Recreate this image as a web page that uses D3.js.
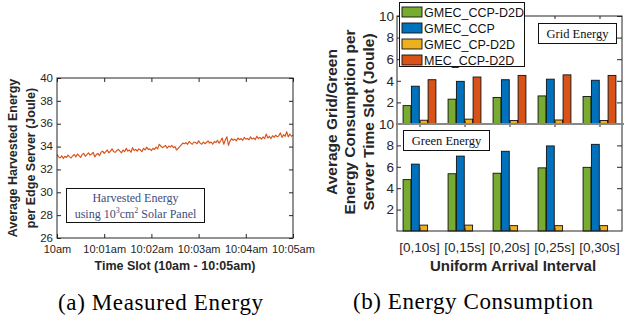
<!DOCTYPE html>
<html><head><meta charset="utf-8">
<script src="https://cdn.jsdelivr.net/npm/d3@7"></script>
<style>
body{margin:0;background:#fff;}
svg{display:block;font-family:"Liberation Sans",Arial,sans-serif;}
.serif{font-family:"Liberation Serif","Times New Roman",Times,serif;}
</style></head>
<body><svg id="c" width="624" height="320"></svg>
<script>
// ---------- Data ----------
// (a) harvested energy, sampled every 2 s from 10:00:00 to 10:05:00
const harvestStepSec = 2;
const harvestValues = [
33.3,33.1,33.0,33.2,32.95,33.15,33.05,33.25,33.1,33.0,33.2,
33.3,33.1,33.35,33.2,33.05,33.3,33.4,33.15,33.3,33.45,
33.25,33.35,33.5,33.1,33.3,33.4,33.2,33.5,33.6,33.4,
33.55,33.7,33.45,33.6,33.8,33.55,33.5,33.65,33.75,33.6,
33.45,33.7,33.55,33.85,33.6,33.7,33.5,33.9,33.65,33.75,
33.6,33.8,33.7,33.55,33.85,33.7,33.95,33.75,33.8,33.65,
33.85,33.75,33.95,33.8,34.2,34.05,33.9,34.0,34.1,33.85,
34.05,33.95,34.1,33.9,34.0,33.7,33.85,34.0,34.15,34.3,
34.25,34.35,34.2,34.45,34.3,34.2,34.4,34.35,34.25,34.5,
34.3,34.2,34.4,34.25,34.35,34.5,34.3,34.4,34.2,34.45,
34.35,34.55,34.3,34.5,34.75,34.2,34.6,34.85,34.1,34.5,
34.7,34.55,34.65,34.5,34.75,34.6,34.7,34.55,34.8,34.65,
34.7,34.6,34.85,34.65,34.75,34.6,34.9,34.7,34.8,34.65,
34.85,34.7,35.1,34.75,34.9,34.7,34.95,34.8,35.0,34.85,
34.95,35.2,34.8,35.05,34.9,35.3,34.85,35.1,34.9,35.0
];
const timeTickSec = [0,60,120,180,240,300];
const timeTickLabels = ["10am","10:01am","10:02am","10:03am","10:04am","10:05am"];
const energyTicks = [26,28,30,32,34,36,38,40];

// (b) energy consumption
const intervals = ["[0,10s]","[0,15s]","[0,20s]","[0,25s]","[0,30s]"];
const seriesNames = ["GMEC_CCP-D2D","GMEC_CCP","GMEC_CP-D2D","MEC_CCP-D2D"];
const seriesColors = ["#77AC30","#0072BD","#EDB120","#D95319"];
const gridGMEC_CCP_D2D = [1.7,2.3,2.45,2.6,2.55];
const gridGMEC_CCP     = [3.5,3.95,4.1,4.15,4.05];
const gridGMEC_CP_D2D  = [0.35,0.45,0.32,0.37,0.32];
const gridMEC_CCP_D2D  = [4.1,4.35,4.5,4.55,4.5];
const greenGMEC_CCP_D2D = [4.8,5.35,5.4,5.9,5.95];
const greenGMEC_CCP     = [6.25,7.0,7.45,7.95,8.1];
const greenGMEC_CP_D2D  = [0.55,0.55,0.5,0.5,0.5];
const greenMEC_CCP_D2D  = [0,0,0,0,0];
const consumptionTicks = [2,4,6,8,10];

// ---------- Drawing ----------
const svg = d3.select("#c");
const ink = "#262626";

// ===== (a) =====
const ax = d3.scaleLinear([0,300],[57,293]);
const ay = d3.scaleLinear([26,40],[238,78]);
const ga = svg.append("g");
const harvest = harvestValues.map((v,i)=>({t:i*harvestStepSec,v}));

ga.append("path").datum(harvest)
  .attr("fill","none").attr("stroke","#D95319").attr("stroke-width",1.15).attr("stroke-linejoin","round")
  .attr("d", d3.line().x(d=>ax(d.t)).y(d=>ay(d.v)));

const axL = ga.append("g").attr("transform","translate(57,0)")
  .call(d3.axisLeft(ay).tickValues(energyTicks).tickFormat(d3.format("d")).tickSizeInner(-4).tickSizeOuter(0).tickPadding(4));
const axR = ga.append("g").attr("transform","translate(293,0)")
  .call(d3.axisRight(ay).tickValues(energyTicks).tickFormat("").tickSizeInner(-4).tickSizeOuter(0));
const axB = ga.append("g").attr("transform","translate(0,238)")
  .call(d3.axisBottom(ax).tickValues(timeTickSec).tickFormat((d,i)=>timeTickLabels[i]).tickSizeInner(-4).tickSizeOuter(0).tickPadding(7));
const axT = ga.append("g").attr("transform","translate(0,78)")
  .call(d3.axisTop(ax).tickValues(timeTickSec).tickFormat("").tickSizeInner(-4).tickSizeOuter(0));
[axL,axR,axB,axT].forEach(g=>{
  g.select(".domain").remove();
  g.selectAll("line").attr("stroke",ink);
  g.selectAll("text").attr("fill",ink).style("font-size","11.5px").style("font-family","'Liberation Sans',Arial,sans-serif");
});
axB.selectAll("text").style("font-size","11px");
axL.selectAll("text").attr("dy","0.28em");
ga.append("rect").attr("x",57).attr("y",78).attr("width",236).attr("height",160)
  .attr("fill","none").attr("stroke",ink).attr("stroke-width",1);

// inner annotation box
ga.append("rect").attr("x",66.5).attr("y",188.5).attr("width",138).attr("height",34)
  .attr("fill","#fff").attr("stroke","#111").attr("stroke-width",1);
ga.append("text").attr("class","serif").attr("text-anchor","middle").attr("x",135.5).attr("y",202)
  .style("font-size","12px").attr("fill","#3f4d7c").text("Harvested Energy");
const l2 = ga.append("text").attr("class","serif").attr("text-anchor","middle").attr("x",135.5).attr("y",218)
  .style("font-size","12px").attr("fill","#3f4d7c");
l2.append("tspan").text("using 10");
l2.append("tspan").attr("dy",-5).style("font-size","8px").text("3");
l2.append("tspan").attr("dy",5).text("cm");
l2.append("tspan").attr("dy",-5).style("font-size","8px").text("2");
l2.append("tspan").attr("dy",5).text(" Solar Panel");

// labels
ga.append("text").attr("x",175).attr("y",269.5).attr("text-anchor","middle")
  .attr("font-weight","bold").style("font-size","12.5px").attr("fill",ink).text("Time Slot (10am - 10:05am)");
const ylA = ga.append("text").attr("transform","rotate(-90)").attr("text-anchor","middle")
  .attr("font-weight","bold").style("font-size","12.5px").attr("fill",ink);
ylA.append("tspan").attr("x",-158).attr("y",17).text("Average Harvested Energy");
ylA.append("tspan").attr("x",-158).attr("y",35).text("per Edge Server (Joule)");
ga.append("text").attr("class","serif").attr("x",160.5).attr("y",310).attr("text-anchor","middle")
  .style("font-size","23px").attr("textLength",205).attr("lengthAdjust","spacing").attr("fill","#000").text("(a) Measured Energy");

// ===== (b) =====
const bx = d3.scaleBand(intervals,[397,622]).paddingInner(0.27).paddingOuter(0.135);
const bs = d3.scaleBand(seriesNames,[0,bx.bandwidth()]).paddingInner(0.06);
const yTop = d3.scaleLinear([0,10],[124,16]);
const yBot = d3.scaleLinear([0,10],[231,124]);
const gridSeries = [gridGMEC_CCP_D2D,gridGMEC_CCP,gridGMEC_CP_D2D,gridMEC_CCP_D2D];
const greenSeries = [greenGMEC_CCP_D2D,greenGMEC_CCP,greenGMEC_CP_D2D,greenMEC_CCP_D2D];
const gb = svg.append("g");
const cpos = d3.scalePoint(intervals,[bx(intervals[0])+bx.bandwidth()/2, bx(intervals[4])+bx.bandwidth()/2]);

function panel(series, y, top, bottom){
  const flat = [];
  series.forEach((arr,si)=>arr.forEach((v,ci)=>flat.push({s:seriesNames[si],c:intervals[ci],v,color:seriesColors[si]})));
  gb.append("g").selectAll("rect").data(flat.filter(d=>d.v>0)).join("rect")
    .attr("x",d=>bx(d.c)+bs(d.s)).attr("width",bs.bandwidth())
    .attr("y",d=>y(d.v)).attr("height",d=>y(0)-y(d.v))
    .attr("fill",d=>d.color).attr("stroke","#111").attr("stroke-width",0.9);
  const l = gb.append("g").attr("transform","translate(397,0)")
    .call(d3.axisLeft(y).tickValues(consumptionTicks).tickSizeInner(-4).tickSizeOuter(0).tickPadding(3));
  const r = gb.append("g").attr("transform","translate(622,0)")
    .call(d3.axisRight(y).tickValues(consumptionTicks).tickFormat("").tickSizeInner(-5).tickSizeOuter(0));
  const t = gb.append("g").attr("transform",`translate(0,${top})`)
    .call(d3.axisTop(cpos).tickFormat("").tickSizeInner(-3).tickSizeOuter(0));
  const b = gb.append("g").attr("transform",`translate(0,${bottom})`)
    .call(d3.axisBottom(cpos).tickFormat("").tickSizeInner(-3).tickSizeOuter(0));
  [l,r,t,b].forEach(g=>{
    g.select(".domain").remove();
    g.selectAll("line").attr("stroke",ink);
    g.selectAll("text").attr("fill",ink).style("font-size","13.5px").style("font-family","'Liberation Sans',Arial,sans-serif");
  });
  gb.append("rect").attr("x",397).attr("y",top).attr("width",225).attr("height",bottom-top)
    .attr("fill","none").attr("stroke",ink).attr("stroke-width",1);
}
panel(gridSeries,yTop,16,124);
panel(greenSeries,yBot,124,231);
gb.append("line").attr("x1",397).attr("x2",624).attr("y1",124).attr("y2",124).attr("stroke","#888").attr("stroke-width",2);

// x tick labels
gb.append("g").selectAll("text").data(intervals).join("text")
  .attr("x",d=>cpos(d)).attr("y",252).attr("text-anchor","middle")
  .style("font-size","13.5px").attr("fill",ink).text(d=>d);

// legend
gb.append("rect").attr("x",399.5).attr("y",2.5).attr("width",125).attr("height",64)
  .attr("fill","#fff").attr("stroke","#111").attr("stroke-width",1);
const lg = gb.append("g").selectAll("g").data(seriesNames).join("g")
  .attr("transform",(d,i)=>`translate(402,${12+i*16})`);
lg.append("rect").attr("x",0).attr("y",-5).attr("width",20).attr("height",10)
  .attr("fill",(d,i)=>seriesColors[i]).attr("stroke","#111").attr("stroke-width",0.9);
lg.append("text").attr("x",22).attr("y",4.5).style("font-size","12.5px").attr("fill","#111").text(d=>d);

// annotations
gb.append("rect").attr("x",538.5).attr("y",23.5).attr("width",78).attr("height",20)
  .attr("fill","#fff").attr("stroke","#111").attr("stroke-width",1);
gb.append("text").attr("class","serif").attr("x",577.5).attr("y",38).attr("text-anchor","middle")
  .style("font-size","12.5px").attr("fill","#111").text("Grid Energy");
gb.append("rect").attr("x",403.5).attr("y",130.5).attr("width",86).attr("height",20)
  .attr("fill","#fff").attr("stroke","#111").attr("stroke-width",1);
gb.append("text").attr("class","serif").attr("x",446.5).attr("y",145).attr("text-anchor","middle")
  .style("font-size","12.5px").attr("fill","#111").text("Green Energy");

// axis labels
gb.append("text").attr("x",513).attr("y",271).attr("text-anchor","middle")
  .attr("font-weight","bold").style("font-size","15px").attr("fill",ink).text("Uniform Arrival Interval");
const ylB = gb.append("text").attr("transform","rotate(-90)").attr("text-anchor","middle")
  .attr("font-weight","bold").style("font-size","15.5px").attr("fill",ink);
ylB.append("tspan").attr("x",-122).attr("y",336.5).text("Average Grid/Green");
ylB.append("tspan").attr("x",-122).attr("y",355).text("Energy Consumption per");
ylB.append("tspan").attr("x",-122).attr("y",373.5).text("Server Time Slot (Joule)");
gb.append("text").attr("class","serif").attr("x",473).attr("y",309).attr("text-anchor","middle")
  .style("font-size","23px").attr("textLength",240).attr("lengthAdjust","spacing").attr("fill","#000").text("(b) Energy Consumption");
</script></body></html>
